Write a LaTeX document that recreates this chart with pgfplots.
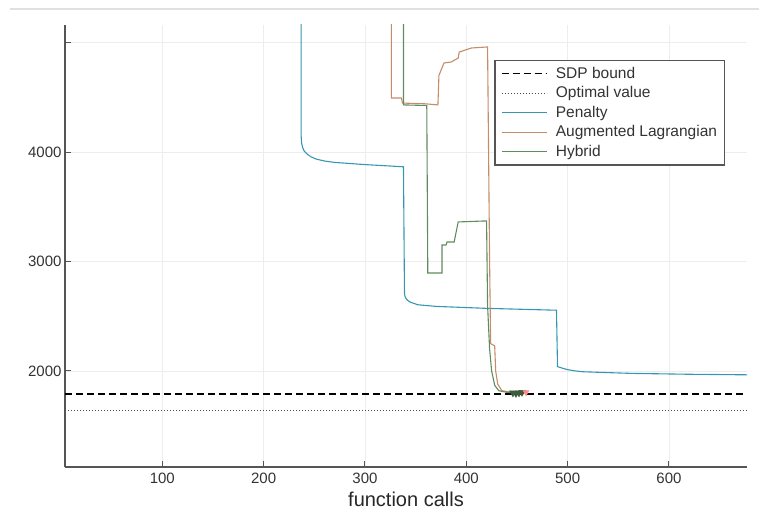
\documentclass[border=0pt]{standalone}
\usepackage{pgfplots}
\pgfplotsset{compat=1.18}
\usepackage{fontspec}
\setmainfont{Liberation Sans}
\definecolor{penc}{RGB}{55,150,178}
\definecolor{augc}{RGB}{196,140,105}
\definecolor{hybc}{RGB}{95,140,95}
\definecolor{axc}{RGB}{85,85,85}
\begin{document}
\begin{tikzpicture}
\path[use as bounding box] (-65pt,-52pt) rectangle (694pt,467pt);
\draw[color=black!12, line width=1.5pt] (-55pt,458pt) -- (694pt,458pt);
\begin{axis}[
  scale only axis, width=682pt, height=442pt,
  xmin=4, xmax=677, ymin=1123, ymax=5160,
  axis x line=bottom, axis y line=left,
  axis line style={-, color=axc, line width=1.2pt},
  xtick={100,200,300,400,500,600},
  ytick={2000,3000,4000,5000},
  yticklabels={2000,3000,4000,{}},
  tick style={color=axc, line width=1pt},
  major tick length=6pt,
  tick align=inside,
  grid=major,
  grid style={color=black!7, line width=0.8pt},
  /pgf/number format/assume math mode=true,
  /pgf/number format/1000 sep={},
  ticklabel style={font=\fontsize{15}{18}\selectfont, color=black!80},
  xticklabel style={yshift=-2pt},
  xlabel={function calls},
  xlabel style={font=\fontsize{20}{24}\selectfont, color=black!85, yshift=-2pt},
  legend style={at={(0.968,0.921)}, anchor=north east, draw=axc, line width=1.3pt,
    font=\fontsize{15.5}{19}\selectfont, text=black!80,
    nodes={inner sep=1.5pt, text height=12pt, text depth=3.5pt, anchor=west},
    row sep=1pt, column sep=7pt, inner xsep=6pt, inner ysep=4pt},
  legend cell align=left,
  legend image code/.code={\draw[#1] (0pt,0pt) -- (45pt,0pt);},
]
\addplot[black, line width=1.3pt, dash pattern=on 7pt off 4pt] coordinates {(4,1790) (677,1790)};
\addlegendentry{SDP bound}
\addplot[black!70, line width=1.1pt, dash pattern=on 1.2pt off 1.8pt] coordinates {(4,1635) (677,1635)};
\addlegendentry{Optimal value}
\addplot[penc, line width=1.1pt] coordinates {
(237,6000) (237,4150) (237.5,4080) (238.5,4040) (240,4010) (243,3980) (247,3955) (252,3935) (260,3918) (270,3905) (300,3885) (338,3865)
(339,2700) (340,2670) (342,2645) (345,2628) (352,2605) (370,2590) (420,2572) (489,2555)
(490,2040) (495,2025) (500,2012) (508,2000) (515,1993) (540,1985) (563,1978) (620,1970) (677,1965)};
\addlegendentry{Penalty}
\addplot[augc, line width=1.1pt] coordinates {
(326,6000) (326,4493) (336,4493) (337,4447) (360,4440) (372,4430)
(373,4700) (378,4813) (385,4822) (392,4858) (393,4913) (405,4950) (420,4959)
(421,4959) (423,3000) (424,2250) (428,2230) (429,2000) (431,1880) (435,1820) (445,1805) (460,1800)};
\addlegendentry{Augmented Lagrangian}
\addplot[hybc, line width=1.1pt] coordinates {
(338,6000) (338,4430) (361,4425) (362,2895) (376,2895)
(376,3151) (380,3151) (381,3178) (388,3178) (392,3361) (417,3370) (420,3370)
(421,2600) (423,2200) (425,2000) (428,1870) (432,1820) (440,1805) (450,1800)};
\addlegendentry{Hybrid}
\addplot[only marks, mark=triangle*, mark size=4pt, mark options={rotate=180, fill=hybc!65!black, draw=hybc!65!black}, forget plot]
  coordinates {(446,1800) (449,1795) (452,1800) (455,1805)};
\addplot[only marks, mark=triangle*, mark size=3.5pt, mark options={rotate=180, fill=red!45, draw=red!45}, forget plot]
  coordinates {(459,1805)};
\end{axis}
\end{tikzpicture}
\end{document}
